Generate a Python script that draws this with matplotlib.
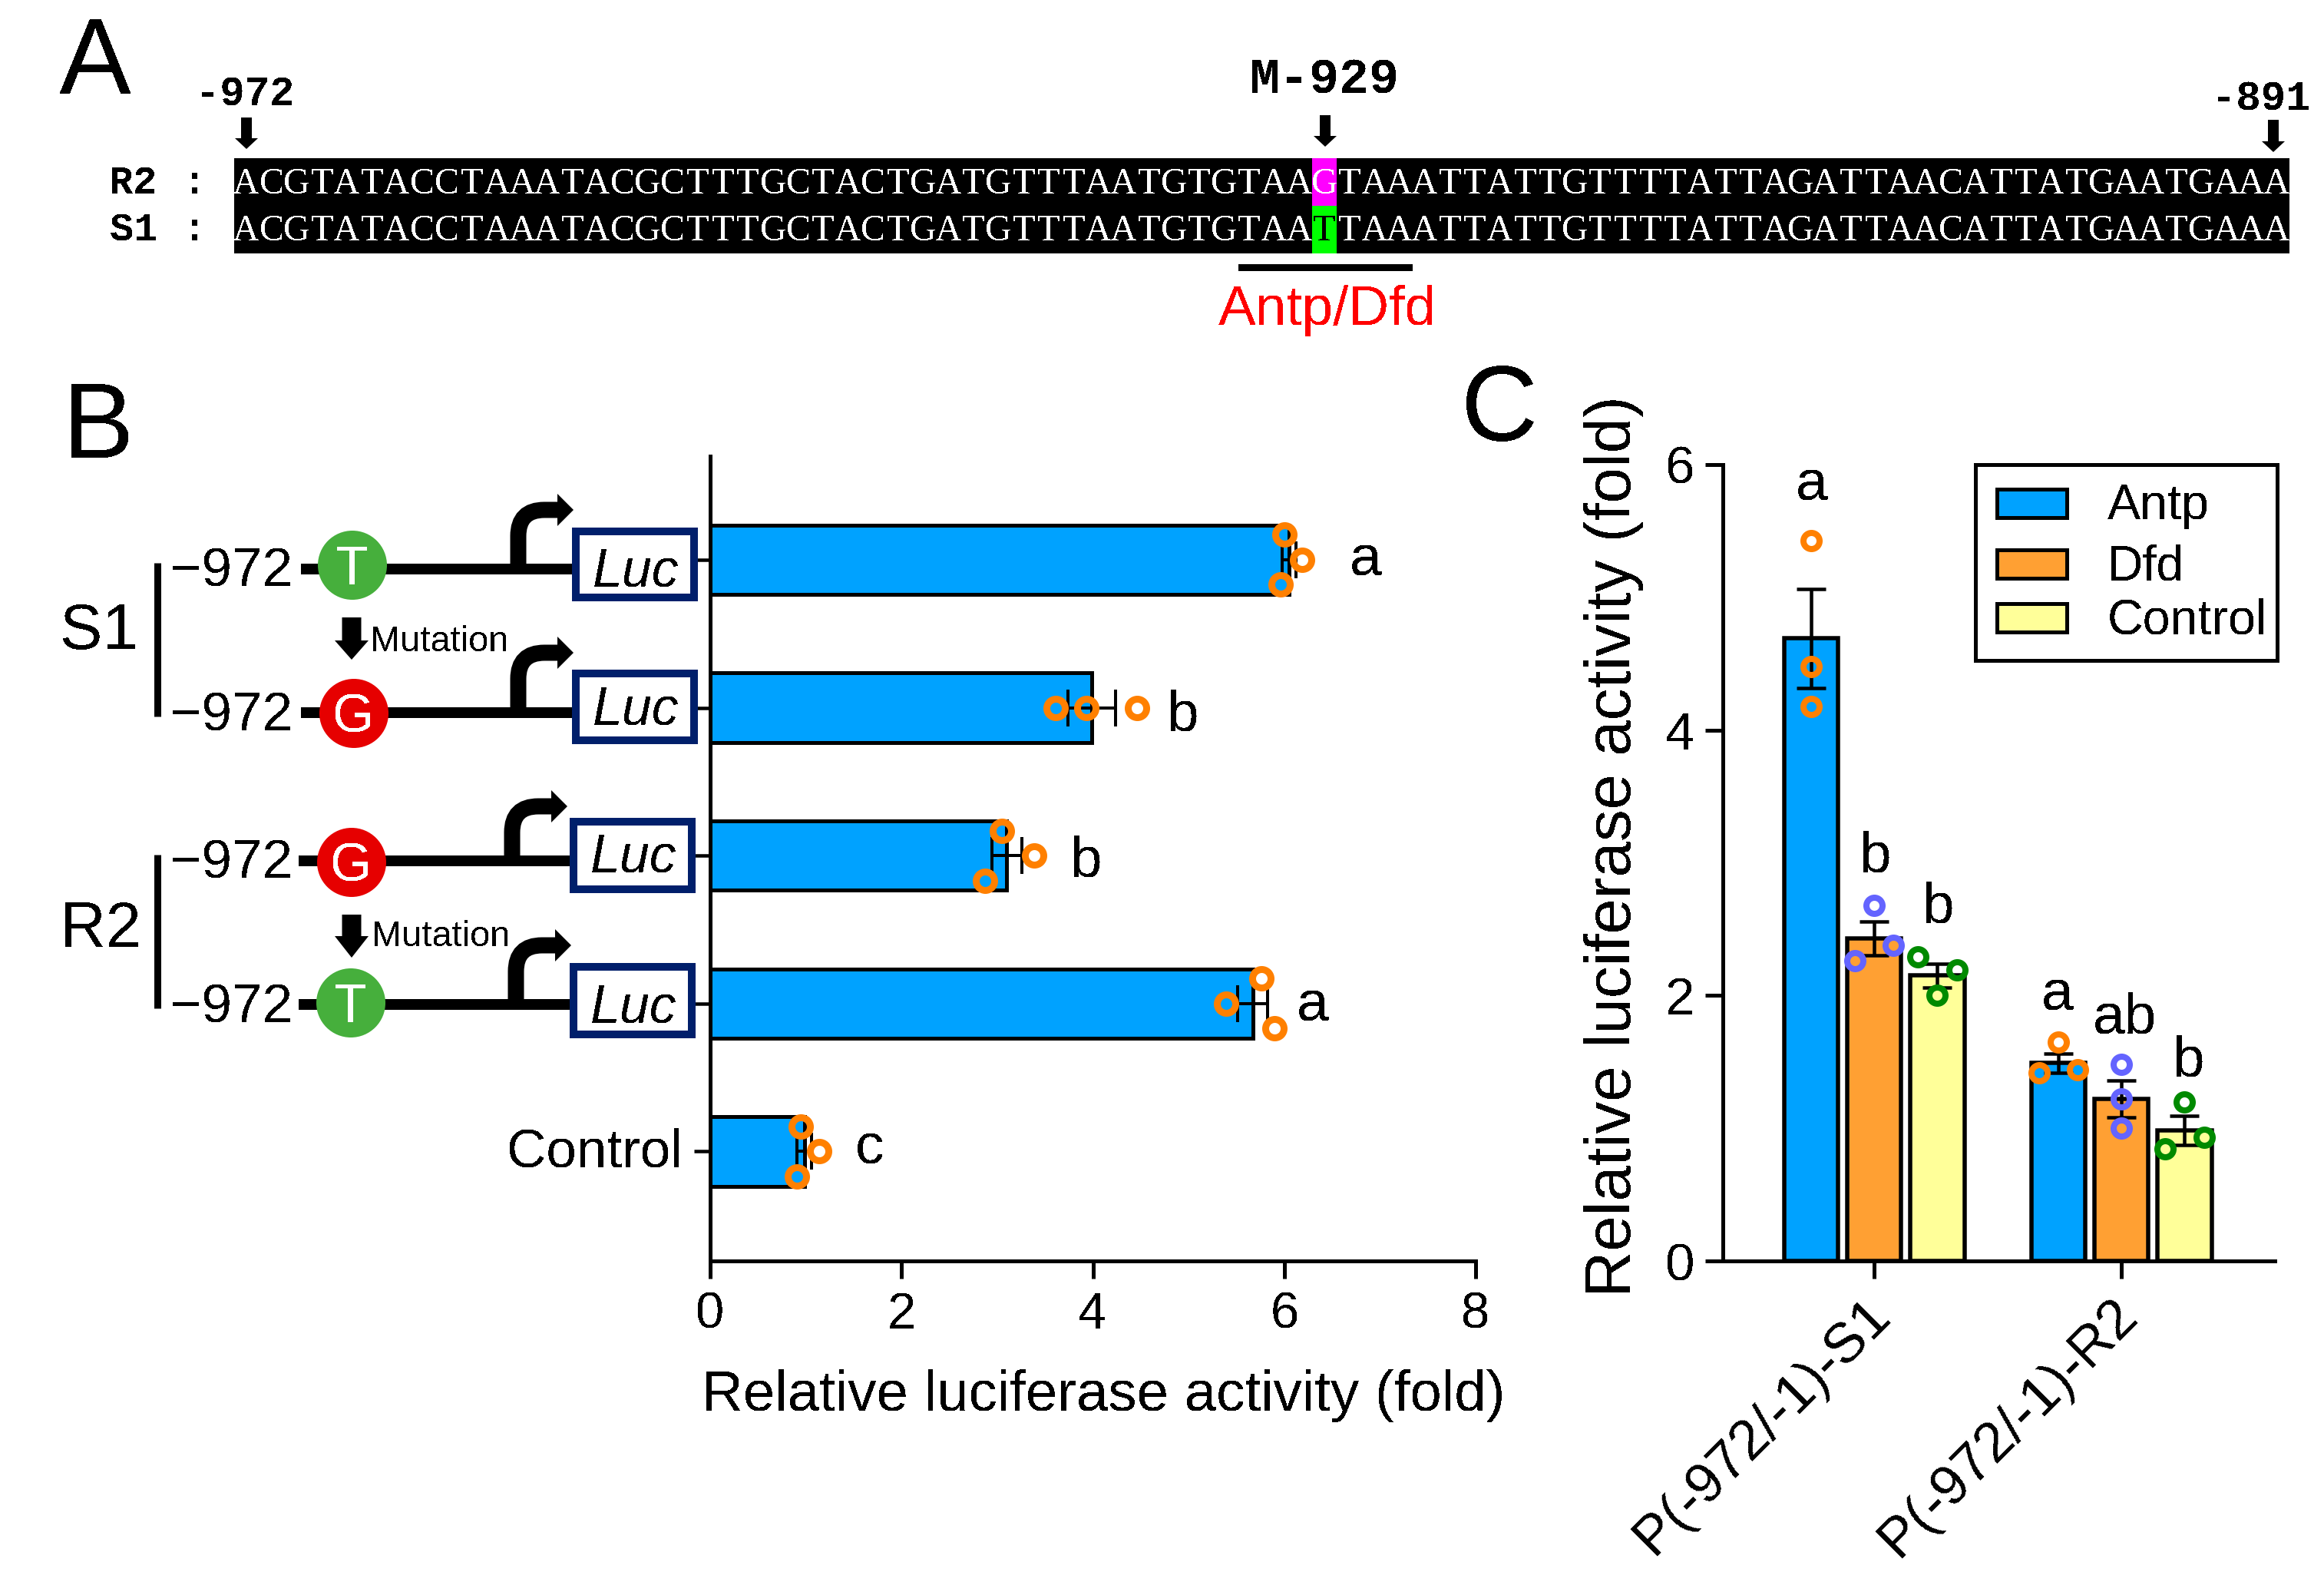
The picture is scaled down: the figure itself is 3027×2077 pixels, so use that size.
from __future__ import annotations

import matplotlib

matplotlib.use("Agg")

import matplotlib.pyplot as plt
from matplotlib.patches import Circle, PathPatch, Polygon, Rectangle
from matplotlib.path import Path
from matplotlib.transforms import ScaledTranslation

WIDTH = 3027
HEIGHT = 2077

BLUE = "#00A2FF"
ORANGE = "#FFA033"
YELLOW = "#FFFF99"
RING_ORANGE = "#FF8000"
RING_BLUE = "#6464FF"
RING_GREEN = "#008A00"
NAVY = "#001F6B"

SEQ_R2 = "ACGTATACCTAAATACGCTTTGCTACTGATGTTTAATGTGTAAGTAAATTATTGTTTTATTAGATTAACATTATGAATGAAA"
SEQ_S1 = "ACGTATACCTAAATACGCTTTGCTACTGATGTTTAATGTGTAATTAAATTATTGTTTTATTAGATTAACATTATGAATGAAA"
SNP_INDEX = 43

# panel B
B_MEANS = [6.05, 3.99, 3.10, 5.67, 0.985]
B_ERRORS = [0.07, 0.25, 0.155, 0.155, 0.075]
B_POINTS = [
    [6.00, 6.19, 5.96],
    [3.61, 3.93, 4.46],
    [3.05, 3.39, 2.87],
    [5.76, 5.39, 5.90],
    [0.945, 1.14, 0.905],
]
B_POINT_ROWS = [
    [-0.168, 0.0, 0.168],
    [0.0, 0.0, 0.0],
    [-0.168, 0.0, 0.168],
    [-0.168, 0.0, 0.168],
    [-0.168, 0.0, 0.168],
]
B_TICKLABELS = ["", "", "", "", "Control"]
B_XTICKS = [0, 2, 4, 6, 8]
FOLD_LABEL = "Relative luciferase activity (fold)"

# panel C
C_GROUPS = ["P(-972/-1)-S1", "P(-972/-1)-R2"]
C_SERIES = ["Antp", "Dfd", "Control"]
C_MEANS = [[4.69, 1.49], [2.43, 1.22], [2.15, 0.985]]
C_ERRORS = [[0.375, 0.075], [0.13, 0.14], [0.09, 0.11]]
C_POINTS = [
    [[5.43, 4.48, 4.18], [1.65, 1.42, 1.44]],
    [[2.68, 2.26, 2.38], [1.48, 1.22, 1.00]],
    [[2.29, 2.19, 2.00], [1.20, 0.845, 0.93]],
]
C_POINT_SHIFT = [
    [[0, 0, 0], [0, -0.078, 0.078]],
    [[0, -0.078, 0.078], [0, 0, 0]],
    [[-0.078, 0.078, 0], [0, -0.078, 0.078]],
]
C_YTICKS = [0, 2, 4, 6]


def axes_at(fig, left, top, right, bottom):
    return fig.add_axes(
        [left / WIDTH, 1 - bottom / HEIGHT, (right - left) / WIDTH, (bottom - top) / HEIGHT]
    )


def shift_label(fig, label, dx, dy):
    # at dpi 72 one point is one pixel
    label.set_transform(label.get_transform() + ScaledTranslation(dx / 72, dy / 72, fig.dpi_scale_trans))


def down_arrow(ax, x, top, tip, shaft=14, head=30, head_len=14):
    neck = tip - head_len
    ax.add_patch(
        Polygon(
            [
                (x - shaft / 2, top),
                (x + shaft / 2, top),
                (x + shaft / 2, neck),
                (x + head / 2, neck),
                (x, tip),
                (x - head / 2, neck),
                (x - shaft / 2, neck),
            ],
            closed=True,
            facecolor="black",
            edgecolor="none",
        )
    )


def draw_panel_a(ax):
    ax.text(77, 122, "A", fontsize=141, va="baseline")
    left, right, top, bottom = 305, 2982, 206, 330
    ax.add_patch(Rectangle((left, top), right - left, bottom - top, facecolor="black", edgecolor="none"))
    cell = (right - left) / len(SEQ_R2)
    middle = (top + bottom) / 2
    snp_x = left + SNP_INDEX * cell
    ax.add_patch(Rectangle((snp_x, top), cell, middle - top, facecolor="#FF00FF", edgecolor="none"))
    ax.add_patch(Rectangle((snp_x, middle), cell, bottom - middle, facecolor="#00FF00", edgecolor="none"))

    for seq, baseline in ((SEQ_R2, 252), (SEQ_S1, 313)):
        for i, letter in enumerate(seq):
            color = "black" if seq is SEQ_S1 and i == SNP_INDEX else "white"
            ax.text(
                left + (i + 0.5) * cell, baseline, letter, color=color, fontsize=48,
                family="Liberation Serif", ha="center", va="baseline",
            )

    mono = {"family": "Liberation Mono", "va": "baseline", "fontweight": "bold"}
    ax.text(143, 252, "R2", fontsize=52, **mono)
    ax.text(143, 313, "S1", fontsize=52, **mono)
    ax.text(254, 252, ":", fontsize=52, ha="center", **mono)
    ax.text(254, 313, ":", fontsize=52, ha="center", **mono)
    ax.text(319, 138, "-972", fontsize=54, ha="center", **mono)
    ax.text(1725, 122, "M-929", fontsize=65, ha="center", **mono)
    ax.text(2945, 143, "-891", fontsize=54, ha="center", **mono)

    down_arrow(ax, 321, 153, 194)
    down_arrow(ax, 1726, 150, 191)
    down_arrow(ax, 2961, 156, 198)

    ax.add_patch(Rectangle((1613, 344), 227, 9, facecolor="black", edgecolor="none"))
    ax.text(1729, 423, "Antp/Dfd", color="red", fontsize=73, ha="center", va="baseline")


def bent_arrow(ax, stem_x, line_y, head_y, tip_x):
    verts = [(stem_x, line_y), (stem_x, head_y + 34), (stem_x, head_y), (stem_x + 34, head_y), (tip_x - 20, head_y)]
    codes = [Path.MOVETO, Path.LINETO, Path.CURVE3, Path.CURVE3, Path.LINETO]
    ax.add_patch(PathPatch(Path(verts, codes), facecolor="none", edgecolor="black", linewidth=21, capstyle="butt"))
    ax.add_patch(
        Polygon(
            [(tip_x - 21, head_y - 21), (tip_x, head_y), (tip_x - 21, head_y + 21)],
            closed=True,
            facecolor="black",
            edgecolor="none",
        )
    )


def draw_construct(ax, line_y, line_left, circle_x, circle_y, base, fill, box_left, box_top, box_bottom, stem_x, head_y, tip_x):
    ax.text(222, line_y + 23, "\u2212972", fontsize=71, va="baseline")
    ax.plot([line_left, box_left], [line_y, line_y], color="black", lw=14, solid_capstyle="butt")
    ax.add_patch(Circle((circle_x, circle_y), 45, facecolor=fill, edgecolor="none", zorder=3))
    ax.text(circle_x, circle_y + 25, base, color="white", fontsize=70, ha="center", va="baseline", zorder=4)
    bent_arrow(ax, stem_x, line_y, head_y, tip_x)
    ax.add_patch(
        Rectangle(
            (box_left + 5, box_top + 5), 154, box_bottom - box_top - 10,
            facecolor="white", edgecolor=NAVY, linewidth=10, joinstyle="miter", zorder=3,
        )
    )
    ax.text(box_left + 27, line_y + 23 if box_top < 700 or box_top > 1200 else line_y + 15, "Luc",
            fontsize=70, style="italic", va="baseline", zorder=4)


def draw_panel_b_scheme(ax):
    ax.text(82, 596, "B", fontsize=139, va="baseline")
    ax.text(78, 845, "S1", fontsize=83, va="baseline")
    ax.text(78, 1233, "R2", fontsize=83, va="baseline")
    ax.plot([205, 205], [733, 933], color="black", lw=9, solid_capstyle="butt")
    ax.plot([205, 205], [1113, 1313], color="black", lw=9, solid_capstyle="butt")

    green, red = "#46AF3C", "#E60000"
    draw_construct(ax, 741, 392, 459, 736, "T", green, 745, 687, 783, 675, 664, 747)
    draw_construct(ax, 928, 392, 461, 929, "G", red, 745, 872, 969, 675, 850, 747)
    draw_construct(ax, 1121, 389, 458, 1123, "G", red, 742, 1065, 1163, 667, 1050, 739)
    draw_construct(ax, 1308, 389, 457, 1306, "T", green, 742, 1254, 1352, 672, 1231, 744)

    down_arrow(ax, 458, 804, 859, shaft=25, head=44, head_len=25)
    down_arrow(ax, 458, 1191, 1247, shaft=25, head=44, head_len=28)
    ax.text(482, 848, "Mutation", fontsize=47, va="baseline")
    ax.text(484, 1232, "Mutation", fontsize=47, va="baseline")


def draw_panel_b_chart(fig, overlay):
    ax = axes_at(fig, 925, 594, 1922, 1642)
    rows = list(range(len(B_MEANS)))
    ax.barh(rows, B_MEANS, height=0.47, color=BLUE, edgecolor="black", linewidth=5)
    ax.errorbar(B_MEANS, rows, xerr=B_ERRORS, fmt="none", ecolor="black", elinewidth=4, capsize=24, capthick=4)
    for row, values, shifts in zip(rows, B_POINTS, B_POINT_ROWS):
        ax.plot(
            values, [row + s for s in shifts], linestyle="none", marker="o", markersize=24,
            markerfacecolor="none", markeredgecolor=RING_ORANGE, markeredgewidth=9, clip_on=False,
        )
    ax.set_xlim(0, 8)
    ax.set_ylim(4.74, -0.70)
    ax.set_xticks(B_XTICKS)
    ax.set_yticks(rows)
    ax.set_yticklabels(B_TICKLABELS)
    ax.tick_params(axis="x", length=23, width=5, labelsize=67, pad=17)
    ax.tick_params(axis="y", length=21, width=4.5, labelsize=71, pad=15)
    for label in ax.get_yticklabels():
        shift_label(fig, label, 0, 5)
    for side in ("top", "right"):
        ax.spines[side].set_visible(False)
    for side in ("left", "bottom"):
        ax.spines[side].set_linewidth(5)
    ax.set_xlabel(FOLD_LABEL, fontsize=74.5, va="baseline")
    ax.xaxis.set_label_coords(1437, 1837, transform=overlay.transData)
    for x, y, letter in [(1779, 750, "a"), (1541, 952, "b"), (1415, 1141, "b"), (1710, 1329, "a"), (1133, 1516, "c")]:
        overlay.text(x, y, letter, fontsize=75, ha="center", va="baseline")


def draw_panel_c_chart(fig, overlay):
    ax = axes_at(fig, 2244, 605, 2963, 1642)
    offsets = [-0.256, 0.0, 0.256]
    fills = [BLUE, ORANGE, YELLOW]
    rings = [RING_ORANGE, RING_BLUE, RING_GREEN]
    groups = list(range(len(C_GROUPS)))
    for s, series in enumerate(C_SERIES):
        xs = [g + offsets[s] for g in groups]
        ax.bar(xs, C_MEANS[s], width=0.218, color=fills[s], edgecolor="black", linewidth=5.5, label=series)
        ax.errorbar(xs, C_MEANS[s], yerr=C_ERRORS[s], fmt="none", ecolor="black", elinewidth=4.5, capsize=19, capthick=4.5)
        for g, x in enumerate(xs):
            ax.plot(
                [x + d for d in C_POINT_SHIFT[s][g]], C_POINTS[s][g], linestyle="none", marker="o", markersize=21,
                markerfacecolor="none", markeredgecolor=rings[s], markeredgewidth=8, clip_on=False,
            )
    ax.set_xlim(-0.612, 1.621)
    ax.set_ylim(0, 6)
    ax.set_yticks(C_YTICKS)
    ax.set_xticks(groups)
    ax.set_xticklabels(C_GROUPS, rotation=45, ha="right", rotation_mode="anchor")
    ax.tick_params(axis="y", length=23, width=5, labelsize=69, pad=13)
    ax.tick_params(axis="x", length=23, width=5, labelsize=72.5, pad=14)
    for label in ax.get_xticklabels():
        shift_label(fig, label, -14, 0)
    for side in ("top", "right"):
        ax.spines[side].set_visible(False)
    for side in ("left", "bottom"):
        ax.spines[side].set_linewidth(5)
    ax.set_ylabel(FOLD_LABEL, fontsize=83.5, va="baseline")
    ax.yaxis.set_label_coords(2124, 1102, transform=overlay.transData)

    for x, y, letter in [
        (2360, 651, "a"), (2443, 1136, "b"), (2525, 1201, "b"),
        (2680, 1316, "a"), (2768, 1346, "ab"), (2851, 1401, "b"),
    ]:
        overlay.text(x, y, letter, fontsize=75, ha="center", va="baseline")

    overlay.text(1903, 574, "C", fontsize=139, va="baseline")

    # legend is hand placed in the original, rows are not evenly spaced
    overlay.add_patch(Rectangle((2573, 605), 393, 255, facecolor="white", edgecolor="black", linewidth=5, zorder=5))
    for name, fill, top, baseline in zip(C_SERIES, fills, (637, 716, 786), (676, 755, 826)):
        overlay.add_patch(Rectangle((2601, top), 91, 37, facecolor=fill, edgecolor="black", linewidth=5, zorder=6))
        overlay.text(2745, baseline, name, fontsize=64.5, va="baseline", zorder=6)


def main() -> None:
    plt.rcParams["font.family"] = ["Liberation Sans", "DejaVu Sans"]
    plt.rcParams["text.antialiased"] = False
    fig = plt.figure(figsize=(WIDTH / 72, HEIGHT / 72), dpi=72, facecolor="white")

    overlay = fig.add_axes([0, 0, 1, 1], zorder=5)
    overlay.set_xlim(0, WIDTH)
    overlay.set_ylim(HEIGHT, 0)
    overlay.axis("off")

    draw_panel_a(overlay)
    draw_panel_b_scheme(overlay)
    draw_panel_b_chart(fig, overlay)
    draw_panel_c_chart(fig, overlay)

    fig.savefig("out.png", dpi=72, facecolor="white")
    plt.close(fig)


if __name__ == "__main__":
    main()
